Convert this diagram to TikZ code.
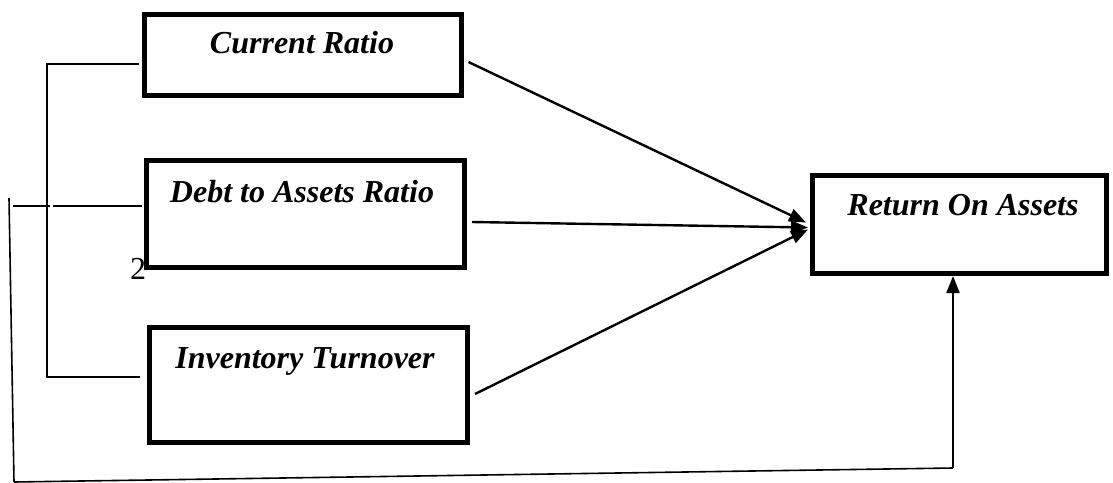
\documentclass[tikz,border=0pt]{standalone}
\usepackage{fontspec}
\setmainfont{Liberation Serif}
\usetikzlibrary{arrows.meta}
\begin{document}
\begin{tikzpicture}[x=1pt,y=-1pt,
  box/.style={draw, line width=5pt, rectangle, inner sep=0pt},
  lbl/.style={font=\fontsize{32}{34}\selectfont\bfseries\itshape, anchor=base, inner sep=0pt},
  tip/.style={-{Triangle[length=17pt,width=13pt]}},
  conn/.style={line width=2.4pt, tip},
  thin/.style={line width=1.6pt}]
\useasboundingbox (0,0) rectangle (1113,482);
% boxes
\node[box, minimum width=317pt, minimum height=81pt] (cr) at (302.5,55) {};
\node[box, minimum width=318pt, minimum height=107.5pt] (da) at (305.5,214) {};
\node[box, minimum width=318pt, minimum height=115pt] (it) at (308.5,385) {};
\node[box, minimum width=294pt, minimum height=98pt] (roa) at (959.5,224.5) {};
% texts
\node[lbl] (crt) at (302,53) {Current Ratio};
\node[lbl] (dat) at (302,202) {Debt to Assets Ratio};
\node[lbl] (itt) at (305,368) {Inventory Turnover};
\node[lbl] (roat) at (963,215) {Return On Assets};
\node[font=\fontsize{32}{34}\selectfont, anchor=base, inner sep=0pt] (two) at (138,279) {2};
% coordinates
\coordinate (b1) at (47,64);
\coordinate (b2) at (47,377);
\coordinate (o1) at (9,198);
\coordinate (o2) at (14,482);
\coordinate (h1) at (13,206);
\coordinate (h2) at (50,206);
\coordinate (h3) at (53,206);
\coordinate (c1) at (953,468);
% bracket
\draw[thin] ([xshift=-3pt,yshift=-9pt]cr.west) -- (b1) -- (b2) -- ([xshift=-7pt,yshift=8pt]it.west);
% outer line
\draw[thin] (o1) -- (o2);
\draw[thin] (h1) -- (h2);
\draw[thin] (h3) -- ([xshift=-2pt,yshift=8pt]da.west);
% arrows to ROA
\draw[conn] ([xshift=5pt,yshift=-7pt]cr.east) -- ([xshift=-4pt,yshift=2pt]roa.west);
\draw[conn] ([xshift=5pt,yshift=-8pt]da.east) -- ([xshift=-2pt,yshift=-3pt]roa.west);
\draw[conn] ([xshift=5pt,yshift=-9pt]it.east) -- ([xshift=-2pt,yshift=-5pt]roa.west);
% bottom feedback
\draw[thin] (o2) -- (c1);
\draw[line width=2pt, tip] (c1) -- (c1 |- roa.south);
\end{tikzpicture}
\end{document}
